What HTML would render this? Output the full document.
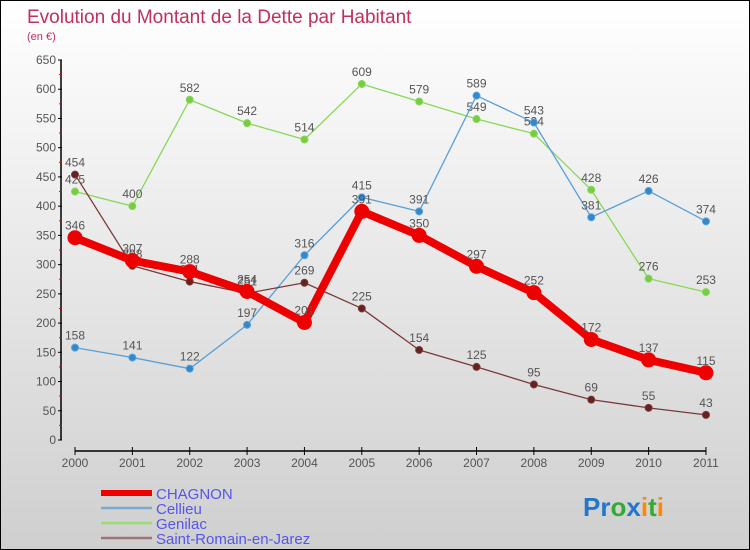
<!DOCTYPE html>
<html><head><meta charset="utf-8"><style>
body{margin:0}
#c{width:748px;height:548px;border:1px solid #000;background:linear-gradient(#ffffff,#cfcfcf);position:relative;overflow:hidden;font-family:"Liberation Sans",sans-serif}
</style></head><body>
<div id="c">
<svg id="s" width="748" height="548" style="position:absolute;left:0;top:0"></svg>
</div>
<script>
const years=["2000","2001","2002","2003","2004","2005","2006","2007","2008","2009","2010","2011"];
const chagnon=[346,307,288,254,201,391,350,297,252,172,137,115];
const cellieu=[158,141,122,197,316,415,391,589,543,381,426,374];
const genilac=[425,400,582,542,514,609,579,549,524,428,276,253];
const stRomain=[454,298,271,251,269,225,154,125,95,69,55,43];
const yTicks=[0,50,100,150,200,250,300,350,400,450,500,550,600,650];
const NS="http://www.w3.org/2000/svg";
const s=document.getElementById('s');
function X(i){return 74+i*57.36;}
function Y(v){return 439-v*380/650;}
function el(t,a,p){const e=document.createElementNS(NS,t);for(const k in a)e.setAttribute(k,a[k]);(p||s).appendChild(e);return e;}
function tx(x,y,str,o){const e=el('text',Object.assign({x:x,y:y,'font-size':12,fill:'#555'},o||{}));e.textContent=str;return e;}
let t=tx(26,22,"Evolution du Montant de la Dette par Habitant",{'font-size':19,fill:'#c0305a'});


t=tx(26,39,"(en €)",{'font-size':11,fill:'#c0305a'});


let ax=el('line',{x1:60,y1:Y(650),x2:60,y2:Y(0),stroke:'#000','stroke-width':1.5});


yTicks.forEach(v=>{el('line',{x1:57,x2:61,y1:Y(v),y2:Y(v),stroke:'#000'});
 if(v<650)el('line',{x1:58,x2:61,y1:Y(v+25),y2:Y(v+25),stroke:'#e00'});
 const l=tx(55,Y(v)+4,String(v),{'text-anchor':'end','font-size':12});
 
 });
ax=el('line',{x1:X(0),y1:450,x2:X(11),y2:450,stroke:'#000','stroke-width':1.5});


years.forEach((y,i)=>{el('line',{x1:X(i),x2:X(i),y1:446,y2:454,stroke:'#000'});
 const l=tx(X(i),466,y,{'text-anchor':'middle','font-size':12});
 
 });
function series(data,color,w,r,fill,name){
 const g=el('g',{});
 
 
 el('polyline',{points:data.map((v,i)=>X(i)+','+Y(v)).join(' '),fill:'none',stroke:color,'stroke-width':w,'stroke-linejoin':'round'},g);
 data.forEach((v,i)=>{const c=el('circle',{cx:X(i),cy:Y(v),r:r,fill:fill,stroke:color,'stroke-width':1},g);
  
  
  const l=tx(X(i),Y(v)-8,String(v),{'text-anchor':'middle','font-size':12},g);
  
  });
}
series(genilac,'#88d858',1.3,3.5,'#77cc44','genilac');
series(cellieu,'#5aa0d8',1.3,3.5,'#3388cc','cellieu');
series(stRomain,'#7a3a3a',1.3,3.5,'#662222','saint-romain');
series(chagnon,'#ee0000',8,7,'#ee0000','chagnon');
const leg=[["CHAGNON","#ee0000",6],["Cellieu","#7aaad0",2.5],["Genilac","#99dd77",2.5],["Saint-Romain-en-Jarez","#997777",2.5]];
leg.forEach((d,i)=>{const y=492+i*15;
 const g=el('g',{});
 
 
 el('line',{x1:100,x2:151,y1:y,y2:y,stroke:d[1],'stroke-width':d[2]},g);
 tx(155,y+6,d[0],{'font-size':15,fill:'#5555ee'},g);});
const lg=el('text',{x:582,y:515,'font-size':26,'font-weight':'bold'});


[["Pr","#2277cc"],["o","#33aa33"],["x","#2277cc"],["i","#ff8800"],["t","#33aa33"],["i","#ff8800"]].forEach(p=>{const ts=el('tspan',{fill:p[1]},lg);ts.textContent=p[0];});
</script>
</body></html>
